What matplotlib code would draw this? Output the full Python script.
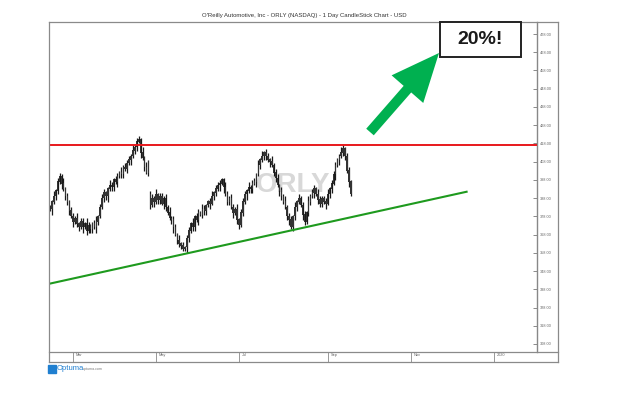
import numpy as np
import pandas as pd
import matplotlib
matplotlib.use("Agg")
import matplotlib.pyplot as plt
from matplotlib.patches import FancyArrow, Rectangle
from matplotlib.lines import Line2D
from matplotlib.transforms import ScaledTranslation

# ORLY daily closes, 2019-02-13 .. mid Sep 2019
closes = [
    382, 386, 389, 392, 397, 400, 396, 393, 389, 386, 381, 378, 375,
    377, 374, 372, 375, 372, 374, 370, 373, 371, 374, 372, 375,
    378, 383, 388, 391, 389, 393, 395, 394, 398, 397, 400,
    402, 401, 405, 404, 407, 409, 411, 414, 416, 419, 420, 413, 410, 405, 402, 408,
    384, 388, 386, 390, 387, 389, 385, 388, 383,
    380, 377, 376, 372, 368, 365, 363, 362, 360, 361, 366,
    370, 374, 372, 378, 376, 380, 379, 382, 381, 384, 386, 385, 389, 391, 393, 395, 396,
    398, 394, 390, 386, 388, 383, 380, 382, 376, 373,
    380, 386, 390, 392, 394, 393, 396, 397, 401, 406, 409, 411, 413,
    411, 409, 408, 406, 402, 399, 395, 392, 389, 386, 383, 378, 376, 372,
    378, 383, 386, 388, 384, 379, 375, 380, 386, 389, 391, 393, 390, 387, 385, 388, 386, 385, 390, 393,
    396, 401, 406, 409, 411, 413, 415, 411, 403, 397, 390,
]
open_gaps = {52: 390}  # earnings gap down in late April
hi_wicks = "2131221312 1221312213 2112312221 1321221312 2213122131 3122131221 2131221312 1221312213 2112312221 1321221312 2213122131 3122131221 2131221312 1221312213 2112312221 1321221"
lo_wicks = "1312213122 2131221312 1221321122 3122131221 2131221312 1221312213 2112312221 1321221312 2213122131 3122131221 2131221312 1221312213 2112312221 1321221312 2213122131 3122131"

resistance = 417
support_start = 341     # support line value at first bar
support_end = 391.5     # value at end of drawn support line
support_end_idx = 216

month_labels = ["Mar", "May", "Jul", "Sep", "Nov", "2020"]
month_starts = ["2019-03-01", "2019-05-01", "2019-07-01", "2019-09-03", "2019-11-01", "2020-01-01"]
y_ticks = list(range(308, 479, 10))

title = "O'Reilly Automotive, Inc - ORLY (NASDAQ) - 1 Day CandleStick Chart - USD"
callout = "20%!"

# ---- derived arrays
days = pd.bdate_range("2019-02-13", "2020-01-31")
n = len(closes)
idx = np.arange(n)
c = np.array(closes, float)
o = np.concatenate([[c[0]], c[:-1]])
for k, v in open_gaps.items():
    o[k] = v
hw = np.array([int(ch) for ch in hi_wicks.replace(" ", "")][:n], float)
lw_ = np.array([int(ch) for ch in lo_wicks.replace(" ", "")][:n], float)
hi = np.maximum(o, c) + hw
lo = np.minimum(o, c) - lw_

W, H = 640, 398
plt.rcParams["font.family"] = ["Liberation Sans", "DejaVu Sans"]
fig = plt.figure(figsize=(W / 100, H / 100), dpi=100)

L, R, T, B = 49, 537, 22, 352
ax = fig.add_axes([L / W, 1 - B / H, (R - L) / W, (B - T) / H])
ax.set_xlim(-0.5, len(days) - 0.5)
ax.set_ylim(303.6, 484.6)

# watermark
ax.text(0.5, 0.506, "ORLY", transform=ax.transAxes, ha="center", va="center",
        fontsize=20, fontweight="bold", color="#d8d8d8", zorder=0)

# candles
ax.vlines(idx, lo, hi, color="#1a1a1a", lw=0.9, zorder=3)
ax.bar(idx, np.abs(c - o) + 0.3, bottom=np.minimum(o, c), width=0.75,
       color="#333333", zorder=3)

# resistance and support lines
ax.axhline(resistance, color="#e8181c", lw=1.4, zorder=4)
ax.plot([-0.5, support_end_idx], [support_start, support_end],
        color="#1e9a1e", lw=1.5, zorder=4)

# axes styling
for s in ["top", "left", "bottom"]:
    ax.spines[s].set_visible(False)
ax.spines["right"].set_color("#888888")
ax.spines["right"].set_linewidth(1.0)
ax.yaxis.tick_right()
ax.set_yticks(y_ticks)
ax.set_yticklabels([f"{v:.2f}" for v in y_ticks])
ax.tick_params(axis="y", direction="in", length=3, width=0.6, colors="#777777",
               labelsize=2.8, pad=2, labelcolor="#666666")

pos = [days.get_indexer([pd.Timestamp(d)], method="bfill")[0] for d in month_starts]
ax.set_xticks(pos)
ax.set_xticklabels(month_labels)
ax.tick_params(axis="x", direction="out", length=7.2, width=0.6, colors="#888888",
               labelsize=2.8, pad=-6.5, labelcolor="#666666")
off = ScaledTranslation(3 / 100, 0, fig.dpi_scale_trans)
for lab in ax.get_xticklabels():
    lab.set_ha("left")
    lab.set_transform(lab.get_transform() + off)

# outer frame and date strip
def fx(px):
    return px / W

def fy(py):
    return 1 - py / H

frame_col = "#8a8a8a"
for (x0, y0, x1, y1) in [(L, T, 558, T), (L, B, 558, B), (L, 362, 558, 362),
                         (L, T, L, 362), (558, T, 558, 362)]:
    fig.add_artist(Line2D([fx(x0), fx(x1)], [fy(y0), fy(y1)], color=frame_col,
                          lw=0.9, transform=fig.transFigure))

fig.text(fx(304), fy(16), title, ha="center", va="center", fontsize=4.3, color="#333333")

# logo
fig.add_artist(Rectangle((fx(48), fy(373)), 8 / W, 8 / H, color="#1f7fd0",
                         transform=fig.transFigure))
fig.text(fx(57), fy(369), "Optuma", fontsize=5.5, color="#1f7fd0", va="center")
fig.text(fx(83), fy(369), "optuma.com", fontsize=2.6, color="#777777", va="center")

# callout: green arrow + box
fig.add_artist(FancyArrow(3.70, 2.66, 0.69, 0.79, width=0.10, head_width=0.42,
                          head_length=0.48, length_includes_head=True,
                          color="#00b050", lw=0, transform=fig.dpi_scale_trans))
fig.add_artist(Rectangle((4.40, (H - 57) / 100), 0.81, 0.35, facecolor="white",
                         edgecolor="#222222", lw=1.4, transform=fig.dpi_scale_trans,
                         zorder=5))
fig.text(4.805 / (W / 100), 1 - 40 / H, callout, ha="center", va="center",
         fontsize=14, fontweight="bold", color="#1a1a1a", zorder=6)

fig.savefig("out.png", dpi=100)
